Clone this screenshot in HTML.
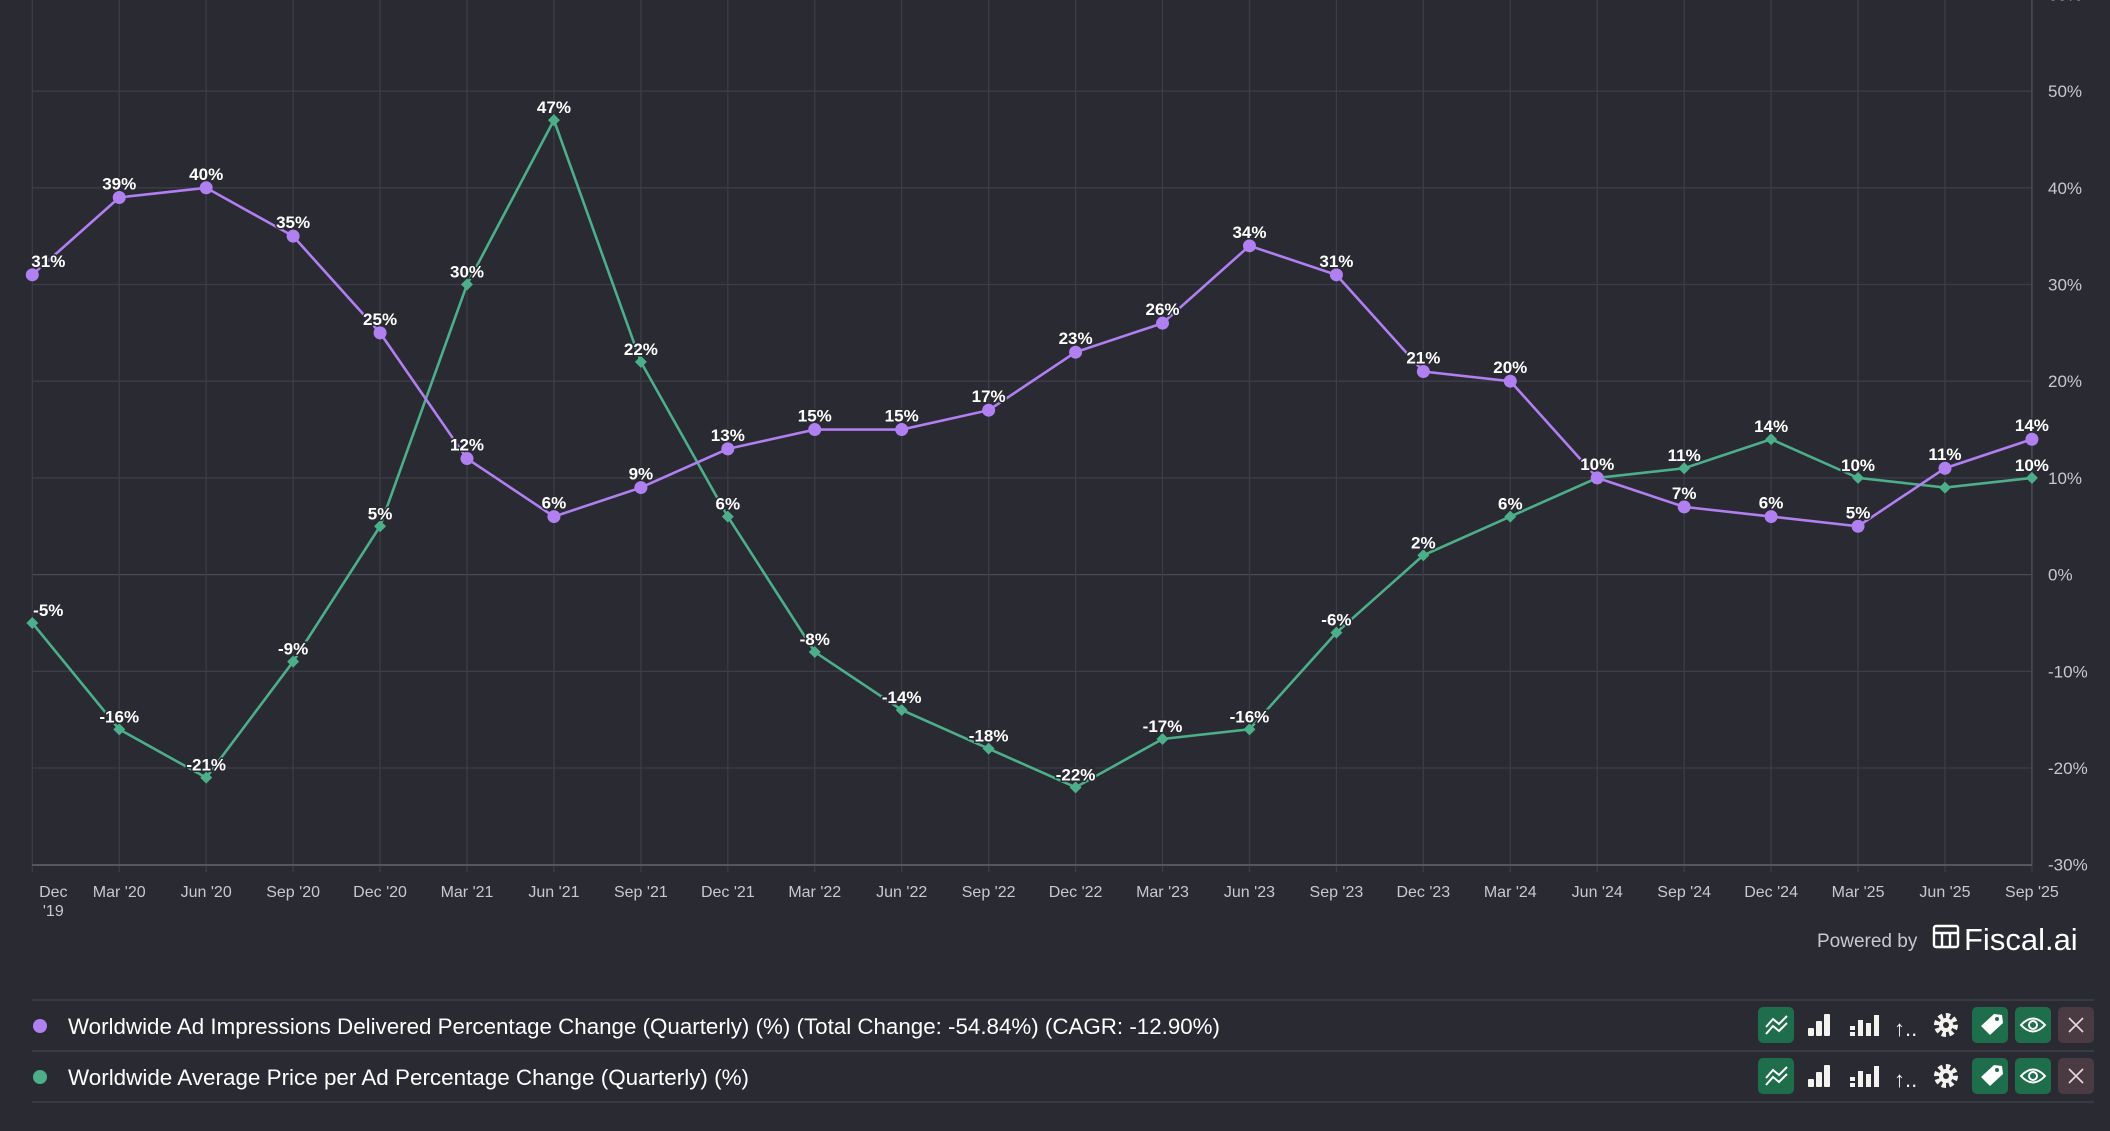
<!DOCTYPE html>
<html><head><meta charset="utf-8">
<style>
html,body{margin:0;padding:0;background:#2a2a32;}
body{width:2110px;height:1126px;overflow:hidden;font-family:"Liberation Sans",sans-serif;}
svg text{font-family:"Liberation Sans",sans-serif;}
</style></head>
<body>
<svg id="c" width="2110" height="1126" xmlns="http://www.w3.org/2000/svg"></svg>
<script>
const s=document.getElementById('c');let h='';
const X0=32.3,DX=86.94,Y0=574.6,DY=9.67;
const xs=i=>X0+i*DX, ys=v=>Y0-v*DY;
for(let v=-20;v<=60;v+=10){const y=ys(v);h+=`<line x1="32" x2="${xs(23)}" y1="${y}" y2="${y}" stroke="${v==0?'#4a4b55':'#3c3d46'}" stroke-width="1.3"/>`;
 h+=`<text x="2048" y="${y+6}" fill="#c8c8d0" font-size="17">${v}%</text>`;}
h+=`<text x="2048" y="${ys(-30)+6}" fill="#c8c8d0" font-size="17">-30%</text>`;
const labs=["Dec","Mar '20","Jun '20","Sep '20","Dec '20","Mar '21","Jun '21","Sep '21","Dec '21","Mar '22","Jun '22","Sep '22","Dec '22","Mar '23","Jun '23","Sep '23","Dec '23","Mar '24","Jun '24","Sep '24","Dec '24","Mar '25","Jun '25","Sep '25"];
for(let i=0;i<24;i++){const x=xs(i);h+=`<line x1="${x}" x2="${x}" y1="0" y2="872" stroke="#3c3d46" stroke-width="1.3"/>`;
 h+=`<text x="${i==0?x+21:x}" y="897" fill="#c8c8d0" font-size="16" text-anchor="middle">${labs[i]}</text>`;}
h+=`<text x="${xs(0)+21}" y="916" fill="#c8c8d0" font-size="16" text-anchor="middle">'19</text>`;
h+=`<line x1="${xs(23)}" x2="${xs(23)}" y1="0" y2="865" stroke="#4a4b55" stroke-width="1.5"/>`;
h+=`<line x1="32" x2="${xs(23)}" y1="865" y2="865" stroke="#55565f" stroke-width="2"/>`;
const P=[31,39,40,35,25,12,6,9,13,15,15,17,23,26,34,31,21,20,10,7,6,5,11,14];
const G=[-5,-16,-21,-9,5,30,47,22,6,-8,-14,-18,-22,-17,-16,-6,2,6,10,11,14,10,9,10];
const pc='#b07ff0',gc='#4caf8a';
h+=`<polyline fill="none" stroke="${gc}" stroke-width="2.6" points="${G.map((v,i)=>xs(i)+','+ys(v)).join(' ')}"/>`;
h+=`<polyline fill="none" stroke="${pc}" stroke-width="2.6" points="${P.map((v,i)=>xs(i)+','+ys(v)).join(' ')}"/>`;
G.forEach((v,i)=>{const x=xs(i),y=ys(v);h+=`<polygon points="${x},${y-6} ${x+6},${y} ${x},${y+6} ${x-6},${y}" fill="${gc}"/>`;});
P.forEach((v,i)=>{h+=`<circle cx="${xs(i)}" cy="${ys(v)}" r="6.5" fill="${pc}"/>`;});
const lab=(x,y,t)=>`<text x="${x}" y="${y}" fill="#fff" font-size="17" font-weight="bold" text-anchor="middle" stroke="#2a2a32" stroke-width="3" paint-order="stroke">${t}</text>`;
G.forEach((v,i)=>{if(i==18||i==22)return;let x=xs(i);if(i==0)x+=16;h+=lab(x,ys(v)-7,v+'%');});
P.forEach((v,i)=>{let x=xs(i);if(i==0)x+=16;h+=lab(x,ys(v)-8,v+'%');});
h+=`<text x="1817" y="947" fill="#c8c8d0" font-size="19">Powered by</text>`;
h+=`<g fill="none" stroke="#fff" stroke-width="2.4"><rect x="1934" y="926" width="24" height="21" rx="2"/><line x1="1934" y1="933" x2="1958" y2="933"/><line x1="1942" y1="933" x2="1942" y2="947"/><line x1="1950" y1="933" x2="1950" y2="947"/></g>`;
h+=`<text x="1964" y="950" fill="#fff" font-size="31">Fiscal.ai</text>`;
[1000,1051,1102].forEach(y=>h+=`<line x1="32" x2="2094" y1="${y}" y2="${y}" stroke="#3e3f48" stroke-width="1.5"/>`);
h+=`<circle cx="40" cy="1026" r="7" fill="${pc}"/><text x="68" y="1034" fill="#fff" font-size="22" textLength="1152" lengthAdjust="spacingAndGlyphs">Worldwide Ad Impressions Delivered Percentage Change (Quarterly) (%) (Total Change: -54.84%) (CAGR: -12.90%)</text>`;
h+=`<circle cx="40" cy="1077" r="7" fill="${gc}"/><text x="68" y="1085" fill="#fff" font-size="22" textLength="681" lengthAdjust="spacingAndGlyphs">Worldwide Average Price per Ad Percentage Change (Quarterly) (%)</text>`;
[1007,1058].forEach(y=>{
 h+=`<rect x="1758" y="${y}" width="36" height="36" rx="5" fill="#1f6e4b"/><polyline points="1766,${y+20} 1773,${y+12} 1779,${y+17} 1787,${y+9}" fill="none" stroke="#fff" stroke-width="2"/><polyline points="1766,${y+27} 1773,${y+19} 1779,${y+24} 1787,${y+16}" fill="none" stroke="#fff" stroke-width="2"/>`;
 h+=`<g fill="#f4f2ee"><rect x="1808" y="${y+21}" width="6" height="8" rx="1"/><rect x="1816" y="${y+14}" width="6" height="15" rx="1"/><rect x="1824" y="${y+7}" width="6" height="22" rx="1"/>`;
 h+=`<rect x="1850" y="${y+19}" width="5" height="4"/><rect x="1850" y="${y+25}" width="5" height="4"/><rect x="1858" y="${y+13}" width="5" height="16"/><rect x="1866" y="${y+16}" width="5" height="13"/><rect x="1874" y="${y+8}" width="5" height="21"/></g>`;
 h+=`<text x="1894" y="${y+29}" fill="#f4f2ee" font-size="22">↑..</text>`;
 h+=`<circle cx="1946" cy="${y+18}" r="9" fill="none" stroke="#f4f2ee" stroke-width="6" stroke-dasharray="4 3"/><circle cx="1946" cy="${y+18}" r="7" fill="#f4f2ee"/><circle cx="1946" cy="${y+18}" r="3" fill="#2a2a32"/>`;
 h+=`<rect x="1972" y="${y}" width="36" height="36" rx="5" fill="#1f6e4b"/><polygon points="1981,${y+19} 1994,${y+7} 2002,${y+8} 2003,${y+16} 1990,${y+28}" fill="#fff"/><circle cx="1997" cy="${y+12}" r="2" fill="#1f6e4b"/>`;
 h+=`<rect x="2015" y="${y}" width="36" height="36" rx="5" fill="#1f6e4b"/><path d="M2021 ${y+18} Q2033 ${y+5} 2045 ${y+18} Q2033 ${y+31} 2021 ${y+18}Z" fill="none" stroke="#fff" stroke-width="2"/><circle cx="2033" cy="${y+18}" r="4" fill="none" stroke="#fff" stroke-width="2"/>`;
 h+=`<rect x="2058" y="${y}" width="36" height="36" rx="5" fill="#4a3a42"/><path d="M2069 ${y+11} L2083 ${y+25} M2083 ${y+11} L2069 ${y+25}" stroke="#e8d8dc" stroke-width="1.6"/>`;
});
s.innerHTML=h;
</script>
</body></html>
